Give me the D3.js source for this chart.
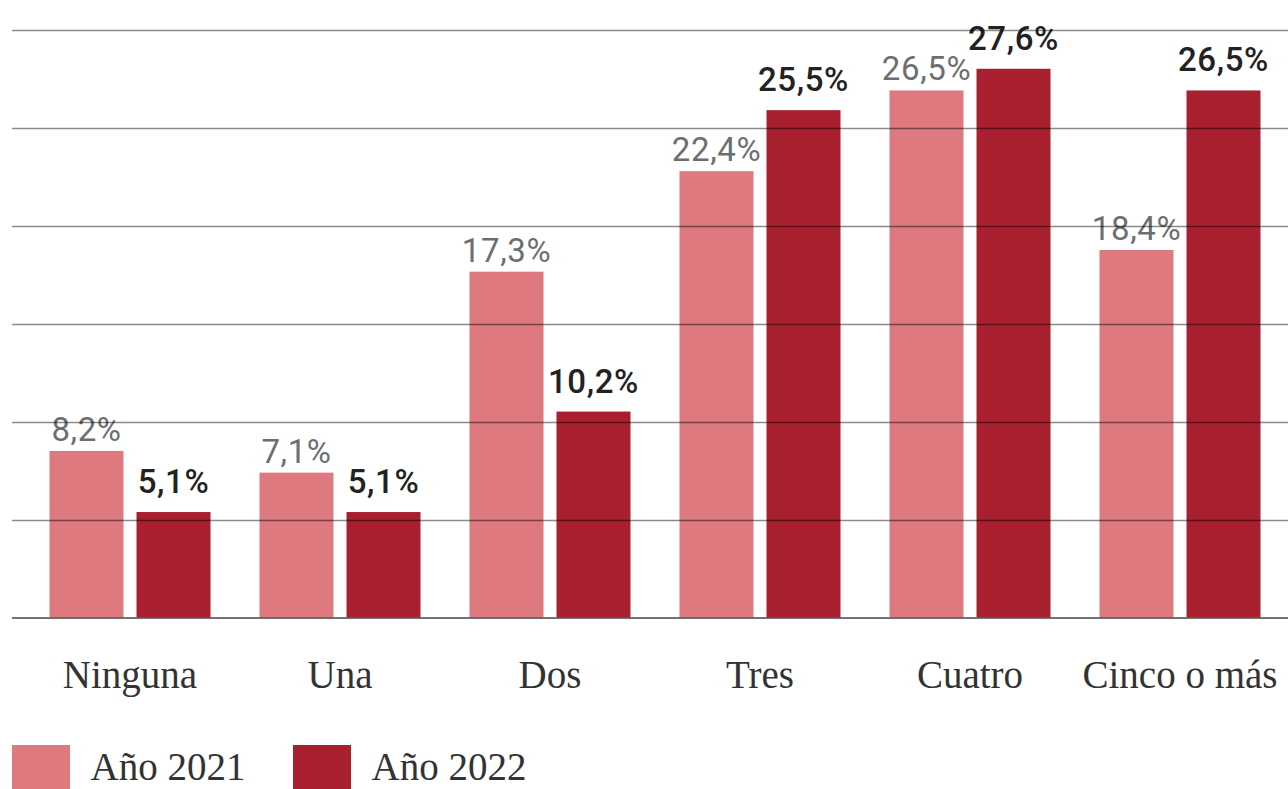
<!DOCTYPE html>
<html>
<head>
<meta charset="utf-8">
<script src="https://cdn.jsdelivr.net/npm/d3@7"></script>
<style>
  html, body { margin: 0; padding: 0; background: #fff; }
  svg { display: block; }
</style>
</head>
<body>
<svg id="chart" width="1288" height="789"></svg>
<script>
const categories = ["Ninguna", "Una", "Dos", "Tres", "Cuatro", "Cinco o más"];
const seriesNames = ["Año 2021", "Año 2022"];
const values2021 = [8.2, 7.1, 17.3, 22.4, 26.5, 18.4];
const values2022 = [5.1, 5.1, 10.2, 25.5, 27.6, 26.5];
const gridTicks = [1, 2, 3, 4, 5, 6];
const colors = ["#de7980", "#a8202f"];

const svg = d3.select("#chart");
const W = 1288, H = 789;
const baseY = 618;

const x0 = d3.scaleBand().domain(categories).range([25, 1285]).padding(0);
const x1 = d3.scaleBand().domain(seriesNames).range([0, x0.bandwidth()])
  .paddingInner(13 / 87).paddingOuter(24.5 / 87);
const y = d3.scaleLinear().domain([0, 30]).range([612.5, 21.5]);
const gridY = d3.scaleLinear().domain([0, 6]).range([baseY, 30]);
const color = d3.scaleOrdinal().domain(seriesNames).range(colors);

const rows = categories.map((c, i) => ({
  cat: c,
  vals: [
    { s: seriesNames[0], v: values2021[i] },
    { s: seriesNames[1], v: values2022[i] }
  ]
}));

// bars
const groups = svg.append("g").selectAll("g.cat").data(rows).join("g")
  .attr("class", "cat")
  .attr("transform", d => `translate(${x0(d.cat)},0)`);

groups.selectAll("rect").data(d => d.vals).join("rect")
  .attr("x", d => x1(d.s))
  .attr("width", x1.bandwidth())
  .attr("y", d => y(d.v))
  .attr("height", d => baseY - 0.5 - y(d.v))
  .attr("fill", d => color(d.s));

// gridlines drawn over the bars
const gg = svg.append("g").attr("transform", "translate(12,0)");
gg.call(d3.axisRight(gridY).tickValues(gridTicks).tickSize(W - 12).tickFormat(""));
gg.select(".domain").remove();
gg.selectAll(".tick line").attr("stroke", "#000").attr("stroke-opacity", 0.46).attr("stroke-width", 1.4);

// baseline
svg.append("line")
  .attr("x1", 12).attr("x2", W)
  .attr("y1", gridY(0)).attr("y2", gridY(0))
  .attr("stroke", "#444").attr("stroke-width", 1.4);

// value labels
groups.selectAll("text.val").data(d => d.vals).join("text")
  .attr("class", "val")
  .attr("x", d => x1(d.s) + x1.bandwidth() / 2)
  .attr("y", d => y(d.v) - (d.s === seriesNames[0] ? 10 : 19))
  .attr("text-anchor", "middle")
  .attr("font-family", "Roboto, 'Liberation Sans', Arial, sans-serif")
  .attr("font-size", 33)
  .attr("letter-spacing", "0.6px")
  .attr("font-weight", d => d.s === seriesNames[0] ? 400 : 500)
  .attr("fill", d => d.s === seriesNames[0] ? "#6b6f6f" : "#222")
  .text(d => d3.format(".1f")(d.v).replace(".", ",") + "%");

// category axis labels
const xAxis = svg.append("g").attr("transform", `translate(0,${baseY})`)
  .call(d3.axisBottom(x0).tickSize(0).tickPadding(0));
xAxis.select(".domain").remove();
xAxis.selectAll("text")
  .attr("y", 70).attr("dy", null)
  .attr("font-family", "'Liberation Serif', 'Times New Roman', serif")
  .attr("font-size", 39)
  .attr("fill", "#333");

// legend
const legendX = [12, 293];
const lg = svg.append("g").selectAll("g").data(seriesNames).join("g")
  .attr("transform", (d, i) => `translate(${legendX[i]},745)`);
lg.append("rect").attr("width", 58).attr("height", 58).attr("fill", d => color(d));
lg.append("text").attr("x", 78.5).attr("y", 35)
  .attr("font-family", "'Liberation Serif', 'Times New Roman', serif")
  .attr("font-size", 39)
  .attr("fill", "#333")
  .text(d => d);
</script>
</body>
</html>
